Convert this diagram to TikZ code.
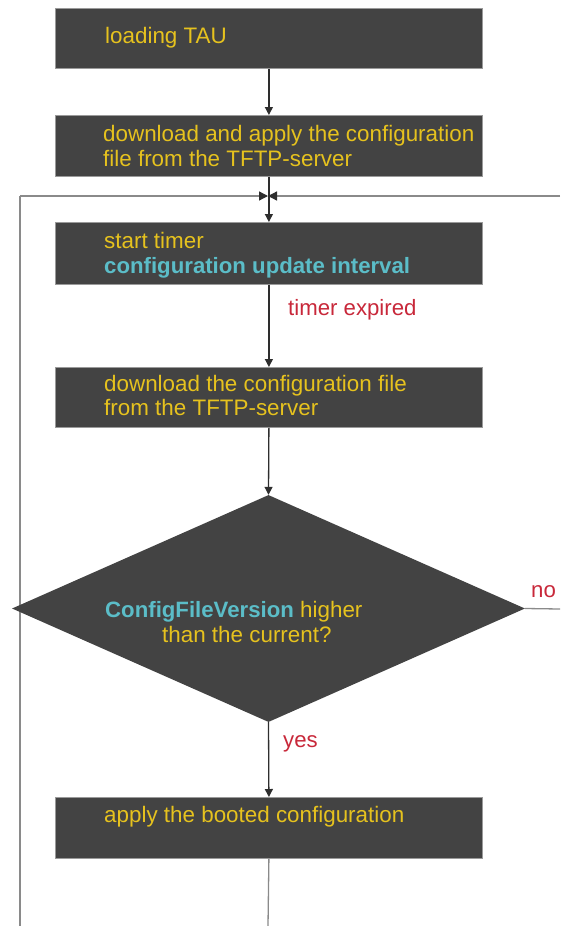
\documentclass[tikz,border=0pt]{standalone}
\usepackage{fontspec}
\setmainfont{Liberation Sans}
\usetikzlibrary{arrows.meta,shapes.geometric,backgrounds}
\definecolor{boxgray}{HTML}{434343}
\definecolor{txtyellow}{HTML}{E6C21E}
\definecolor{txtcyan}{HTML}{5BBDC8}
\definecolor{txtred}{HTML}{C8283A}
\definecolor{linedark}{HTML}{2E2E2E}
\definecolor{linegray}{HTML}{8A8A8A}
\definecolor{bordergray}{HTML}{9A9A9A}
\begin{document}
\begin{tikzpicture}[x=1pt,y=-1pt,
  box/.style={draw=bordergray,line width=0.8pt,fill=boxgray,minimum width=427pt,inner sep=0pt,anchor=north west},
  txt/.style={font=\fontsize{22.4}{25}\selectfont,text=txtyellow,inner sep=0pt,anchor=base west},
  hl/.style={font=\fontsize{22.2}{25}\selectfont\bfseries,text=txtcyan,inner sep=0pt,anchor=base west},
  lbl/.style={font=\fontsize{22.2}{25}\selectfont,text=txtred,inner sep=0pt,anchor=base west},
  arr/.style={draw=linedark,line width=1.3pt,-{Triangle[length=8pt,width=8pt]}},
  ln/.style={draw=linegray,line width=1.3pt},
  larr/.style={draw=linegray,line width=1.3pt,-{Triangle[length=9pt,width=9pt,color=linedark]}}]
\useasboundingbox (0,0) rectangle (560,926);

% coordinates of the loop lines
\coordinate (jn) at (268,196);
\coordinate (lb) at (20,926);
\coordinate (lt) at (20,196);
\coordinate (rt) at (560,196);
\coordinate (bt) at (268,926);
\coordinate (nr) at (560,609);

% boxes
\node (b1) [box,minimum height=60pt] at (55,8) {};
\node (b2) [box,minimum height=61pt] at (55,115) {};
\node (b3) [box,minimum height=62pt] at (55,222) {};
\node (b4) [box,minimum height=60pt] at (55,367) {};
\node (dec) [diamond,fill=boxgray,draw=none,minimum width=513pt,minimum height=227pt,inner sep=0pt] at (268.5,608.5) {};
\node (b5) [box,minimum height=61pt] at (55,797) {};

% left loop line (behind the diamond)
\begin{scope}[on background layer]
\draw[ln] (lb) -- (lt);
\end{scope}
\draw[larr] (lt) -- (jn);
\draw[larr] (rt) -- (jn);

% texts
\node (t1) [txt] at (105,43) {loading TAU};
\node (t2a) [txt] at (103,141) {download and apply the configuration};
\node (t2b) [txt] at (103,166) {file from the TFTP-server};
\node (t3a) [txt] at (104,248) {start timer};
\node (t3b) [hl] at (104,273) {configuration update interval};
\node (t4a) [txt] at (104,391) {download the configuration file};
\node (t4b) [txt] at (104,415) {from the TFTP-server};
\node (t5) [txt] at (104,822) {apply the booted configuration};
\node (d1) [hl] at (105,617) {ConfigFileVersion};
\node (d1b) [txt] at (300,617) {higher};
\node (d2) [txt] at (162,642) {than the current?};

% connectors
\draw[arr] (b1.south) -- (b2.north);
\draw[arr] (b2.south) -- (b3.north);
\draw[arr] (b3.south) -- (b4.north);
\node (lte) [lbl] at (288,315) {timer expired};
\draw[arr] (b4.south) -- (dec.north);
\draw[arr] (dec.south) -- (b5.north);
\node (ly) [lbl] at (283,747) {yes};
\draw[ln] (dec.east) -- (nr);
\node (lno) [lbl] at (531,597) {no};
\draw[ln] (b5.south) -- (bt);
\end{tikzpicture}
\end{document}
